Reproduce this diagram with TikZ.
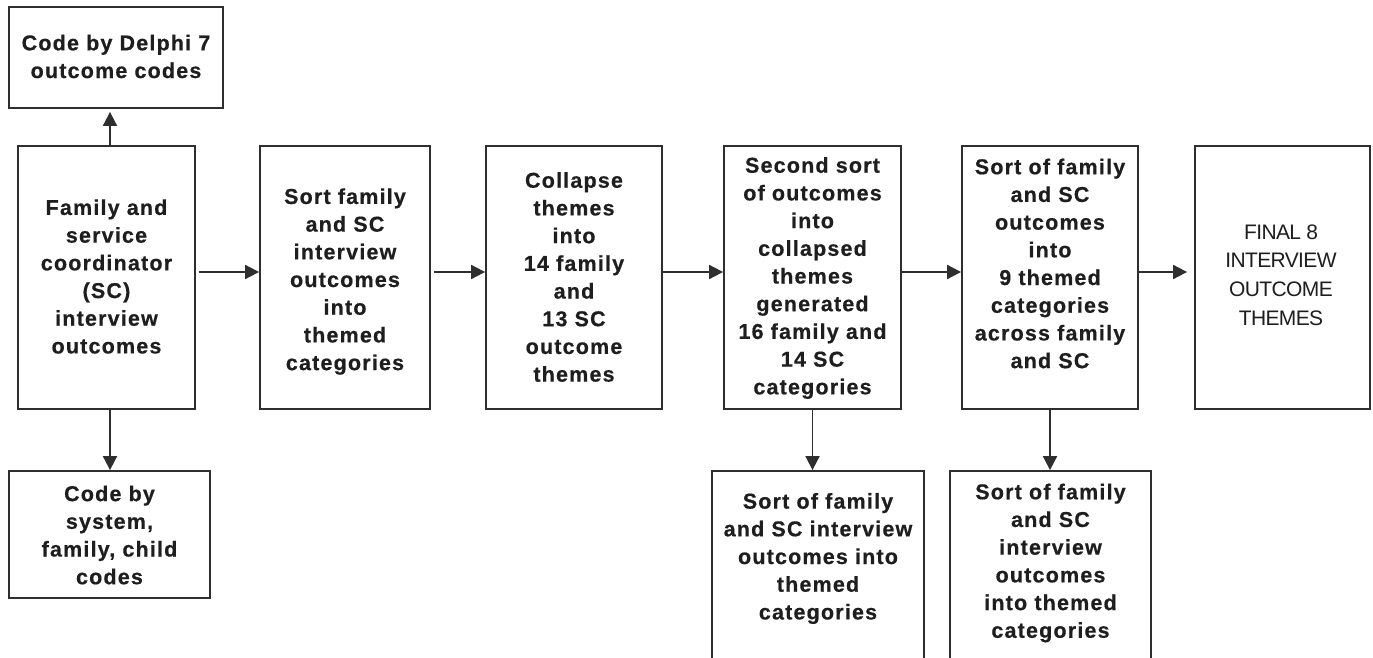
\documentclass[tikz,border=0pt]{standalone}
\usepackage{fontspec}
\setmainfont{Liberation Sans}
\newfontfamily\boxfont[LetterSpace=5.5, BoldFeatures={FakeBold=0.5}]{Liberation Sans}
\newfontfamily\finalfont[LetterSpace=-3]{Liberation Sans}
\usetikzlibrary{arrows.meta}
\definecolor{linec}{HTML}{2E2E2E}
\definecolor{textc}{HTML}{1E1E1E}
\tikzset{
  box/.style={draw=linec, line width=1.8pt, fill=white, inner sep=0pt},
  boldtxt/.style={align=center, text=textc, inner sep=0pt,
    font=\boxfont\bfseries\fontsize{21.5}{27.7}\selectfont},
  plaintxt/.style={align=center, text=textc, inner sep=0pt,
    font=\finalfont\fontsize{21}{28.7}\selectfont},
  arr/.style={draw=linec, line width=1.8pt, -{Triangle[length=14pt,width=14pt]}}
}
\begin{document}
\begin{tikzpicture}[x=1pt,y=-1pt]
\useasboundingbox[fill=white] (0,0) rectangle (1373,658);
\clip (0,0) rectangle (1373,658);
% boxes
\node[box, minimum width=214pt, minimum height=101pt] (tl) at (116,57.5) {};
\node[box, minimum width=177pt, minimum height=263pt] (b1) at (106.5,277.5) {};
\node[box, minimum width=170pt, minimum height=263pt] (b2) at (345,277.5) {};
\node[box, minimum width=176pt, minimum height=263pt] (b3) at (574,277.5) {};
\node[box, minimum width=177pt, minimum height=263pt] (b4) at (812.5,277.5) {};
\node[box, minimum width=176pt, minimum height=263pt] (b5) at (1050,277.5) {};
\node[box, minimum width=175pt, minimum height=263pt] (b6) at (1282.5,277.5) {};
\node[box, minimum width=201pt, minimum height=127pt] (bl) at (109.5,534.5) {};
\node[box, minimum width=212pt, minimum height=229pt] (bb1) at (818,585.5) {};
\node[box, minimum width=201pt, minimum height=229pt] (bb2) at (1050.5,585.5) {};
% texts
\node[boldtxt] (ttl) at (116,56.5) {Code by Delphi 7\\outcome codes};
\node[boldtxt] (tb1) at (106.5,276.5) {Family and\\service\\coordinator\\(SC)\\interview\\outcomes};
\node[boldtxt] (tb2) at (345,281.5) {Sort family\\and SC\\interview\\outcomes\\into\\themed\\categories};
\node[boldtxt] (tb3) at (574,277) {Collapse\\themes\\into\\14 family\\and\\13 SC\\outcome\\themes};
\node[boldtxt] (tb4) at (812.5,278) {Second sort\\of outcomes\\into\\collapsed\\themes\\generated\\16 family and\\14 SC\\categories};
\node[boldtxt] (tb5) at (1050,263.5) {Sort of family\\and SC\\outcomes\\into\\9 themed\\categories\\across family\\and SC};
\node[plaintxt] (tb6) at (1281,275) {FINAL 8\\INTERVIEW\\OUTCOME\\THEMES};
\node[boldtxt] (tbl) at (109.5,535) {Code by\\system,\\family, child\\codes};
\node[boldtxt] (tbb1) at (818,558.5) {Sort of family\\and SC interview\\outcomes into\\themed\\categories};
\node[boldtxt] (tbb2) at (1050.5,563) {Sort of family\\and SC\\interview\\outcomes\\into themed\\categories};
% connectors
\draw[arr] ([xshift=3.5pt]b1.north) -- ([xshift=3.5pt,yshift=-3pt]b1.north |- tl.south);
\draw[arr] ([xshift=3.5pt]b1.south) -- ([xshift=3.5pt]b1.south |- bl.north);
\draw[arr, shorten <=3pt] ([yshift=5.5pt]b1.east) -- ([yshift=5.5pt]b1.east -| b2.west);
\draw[arr, shorten <=3pt] ([yshift=5.5pt]b2.east) -- ([yshift=5.5pt]b2.east -| b3.west);
\draw[arr] ([yshift=5.5pt]b3.east) -- ([yshift=5.5pt]b3.east -| b4.west);
\draw[arr] ([yshift=5.5pt]b4.east) -- ([yshift=5.5pt]b4.east -| b5.west);
\draw[arr, shorten >=7pt] ([yshift=5.5pt]b5.east) -- ([yshift=5.5pt]b5.east -| b6.west);
\draw[arr] (b4.south) -- (b4.south |- bb1.north);
\draw[arr] (b5.south) -- (b5.south |- bb2.north);
\end{tikzpicture}
\end{document}
